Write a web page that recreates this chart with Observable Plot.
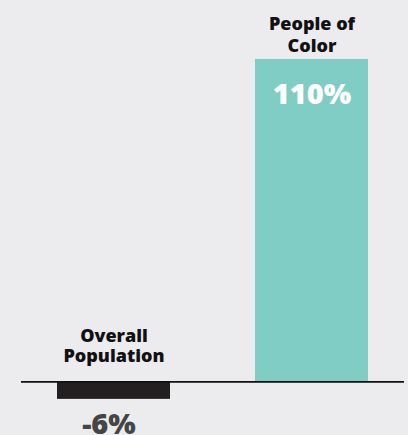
<!DOCTYPE html>
<html>
<head>
<meta charset="utf-8">
<script src="https://cdn.jsdelivr.net/npm/d3@7"></script>
<script src="https://cdn.jsdelivr.net/npm/@observablehq/plot@0.6"></script>
<style>
  html, body { margin: 0; padding: 0; background: #ececee; }
  #chart { width: 408px; height: 435px; }
</style>
</head>
<body>
<div id="chart"></div>
<script>
const categories = ["Overall\nPopulation", "People of\nColor"];
const values = [-6, 110];
const valueLabels = ["-6%", "110%"];
const colors = ["#231f20", "#7fcdc5"];

const data = categories.map((c, i) => ({category: c, value: values[i], label: valueLabels[i], color: colors[i]}));
const pos = data.filter(d => d.value >= 0);
const neg = data.filter(d => d.value < 0);

const labelFont = "'Open Sans', sans-serif";

const chart = Plot.plot({
  width: 408,
  height: 435,
  marginLeft: 21,
  marginRight: 4,
  marginTop: 0,
  marginBottom: 0,
  style: {background: "#ececee", overflow: "visible"},
  x: {domain: categories, range: [17.4, 407.6], paddingInner: 0.43, paddingOuter: 0.2, axis: null},
  y: {domain: [0, 110], range: [381.3, 59], axis: null},
  marks: [
    Plot.barY(data, {x: "category", y: "value", fill: "color"}),
    Plot.ruleY([0], {stroke: "#111", strokeWidth: 1.7}),
    // category labels
    Plot.text(pos, {x: "category", y: "value", text: "category", lineAnchor: "bottom", dy: -8,
      fontFamily: labelFont, fontWeight: 800, fontSize: 18, lineHeight: 1.2, fill: "#111"}),
    Plot.text(neg, {x: "category", y: () => 0, text: "category", lineAnchor: "bottom", dy: -19.6,
      fontFamily: labelFont, fontWeight: 800, fontSize: 18, lineHeight: 1.12, fill: "#111"}),
    // value labels
    Plot.text(pos, {x: "category", y: "value", text: "label", lineAnchor: "bottom", dy: 44,
      fontFamily: labelFont, fontWeight: 800, fontSize: 29, fill: "#ffffff"}),
    Plot.text(neg, {x: "category", y: "value", text: "label", lineAnchor: "bottom", dy: 35, dx: -5,
      fontFamily: labelFont, fontWeight: 800, fontSize: 29, fill: "#454545"})
  ]
});
document.getElementById("chart").appendChild(chart);
</script>
</body>
</html>
